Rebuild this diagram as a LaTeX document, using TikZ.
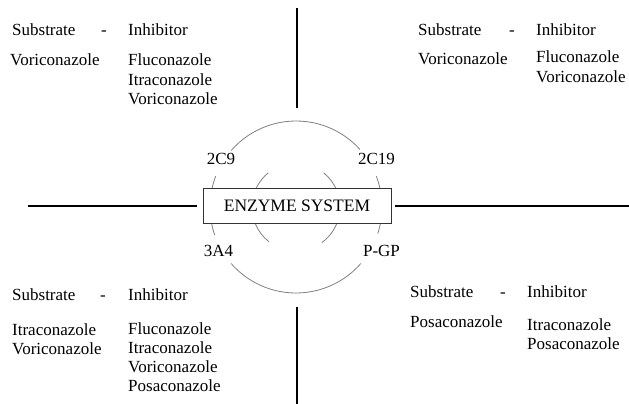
\documentclass[tikz,border=0pt]{standalone}
\usepackage{fontspec}
\setmainfont{Liberation Serif}
\usetikzlibrary{calc}

\begin{document}
\begin{tikzpicture}[x=1pt,y=-1pt,
		txt/.style={anchor=base west,inner sep=0pt,font=\fontsize{17}{19}\selectfont},
		lbl/.style={inner sep=0pt,font=\fontsize{17}{19}\selectfont},
		sep/.style={line width=2.4pt},
		ring/.style={draw=gray,line width=0.8pt}]
		\useasboundingbox (0,0) rectangle (629,404);
		\coordinate (c) at (296,207);
%
		% outer ring
		\draw[ring] ([shift={(-139:86)}]c) arc[start angle=-139,end angle=-42,radius=86];
		\draw[ring] ([shift={(41:86)}]c) arc[start angle=41,end angle=139,radius=86];
		\draw[ring] ([shift={(161:86)}]c) arc[start angle=161,end angle=201,radius=86];
		\draw[ring] ([shift={(-21:86)}]c) arc[start angle=-21,end angle=18,radius=86];
		% inner ring
		\draw[ring] ([shift={(128:44)}]c) arc[start angle=128,end angle=231,radius=44];
		\draw[ring] ([shift={(-51:44)}]c) arc[start angle=-51,end angle=54,radius=44];
%
		\node[draw=black!80,fill=white,line width=0.9pt,minimum width=188pt,minimum height=35pt,inner sep=0pt,
			font=\fontsize{17.5}{19}\selectfont] (enz) at (297,205.5) {ENZYME SYSTEM};
		\node[lbl] (cyp2c9) at (221,159) {2C9};
		\node[lbl] (cyp2c19) at (376.5,159) {2C19};
		\node[lbl] (cyp3a4) at (218.5,251) {3A4};
		\node[lbl] (pgp) at (381.5,251) {P-GP};
%
		\coordinate (W) at (28,206);
		\coordinate (E) at (629,206);
		\coordinate (N1) at (297,8);
		\coordinate (N2) at (297,108);
		\coordinate (S1) at (297,307);
		\coordinate (S2) at (297,404);
		\draw[sep] (W) -- ($(enz.west |- W) + (-6,0)$);
		\draw[sep] ($(enz.east |- E) + (4,0)$) -- (E);
		\draw[sep] (N1) -- (N2);
		\draw[sep] (S1) -- (S2);
%
		% top left
		\node[txt] (tl-sub) at (12,36) {Substrate};
		\node[txt] (tl-dash) at (101,36) {-};
		\node[txt] (tl-inh) at (128,36) {Inhibitor};
		\node[txt] (tl-s1) at (10,66) {Voriconazole};
		\foreach \drug [count=\i] in {Fluconazole,Itraconazole,Voriconazole}
			\node[txt] (tl-i\i) at (128,{66+19*(\i-1)}) {\drug};
		% top right
		\node[txt] (tr-sub) at (418,36) {Substrate};
		\node[txt] (tr-dash) at (509,36) {-};
		\node[txt] (tr-inh) at (536,36) {Inhibitor};
		\node[txt] (tr-s1) at (418,64) {Voriconazole};
		\foreach \drug [count=\i] in {Fluconazole,Voriconazole}
			\node[txt] (tr-i\i) at (536,{63+19.5*(\i-1)}) {\drug};
		% bottom left
		\node[txt] (bl-sub) at (12,300) {Substrate};
		\node[txt] (bl-dash) at (100,300) {-};
		\node[txt] (bl-inh) at (128,300) {Inhibitor};
		\foreach \drug [count=\i] in {Itraconazole,Voriconazole}
			\node[txt] (bl-s\i) at (12,{335+19.5*(\i-1)}) {\drug};
		\foreach \drug [count=\i] in {Fluconazole,Itraconazole,Voriconazole,Posaconazole}
			\node[txt] (bl-i\i) at (128,{334+19.3*(\i-1)}) {\drug};
		% bottom right
		\node[txt] (br-sub) at (410,297) {Substrate};
		\node[txt] (br-dash) at (500,297) {-};
		\node[txt] (br-inh) at (527,297) {Inhibitor};
		\node[txt] (br-s1) at (410,327) {Posaconazole};
		\foreach \drug [count=\i] in {Itraconazole,Posaconazole}
			\node[txt] (br-i\i) at (527,{330+19.5*(\i-1)}) {\drug};
	\end{tikzpicture}
\end{document}
